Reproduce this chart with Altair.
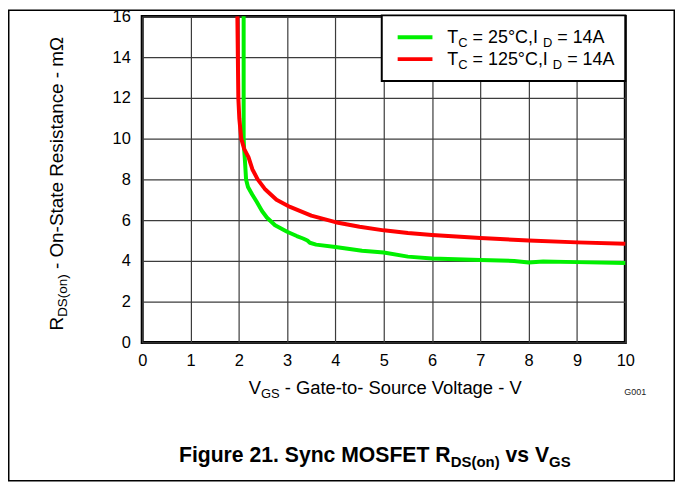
import altair as alt
import pandas as pd

# ---------------- data ----------------
vgs_25 = [2.10, 2.10, 2.11, 2.13, 2.15, 2.19, 2.28, 2.37, 2.48, 2.58, 2.75, 3.00, 3.20, 3.33,
          3.42, 3.47, 3.60, 4.00, 4.55, 5.00, 5.50, 6.00, 7.00, 7.70, 8.00, 8.30, 9.00, 10.00]
rds_25 = [16.0, 10.0, 9.5, 8.8, 8.0, 7.63, 7.25, 6.9, 6.45, 6.13, 5.75, 5.43, 5.22, 5.10,
          5.00, 4.89, 4.80, 4.68, 4.50, 4.41, 4.21, 4.12, 4.05, 4.00, 3.92, 3.97, 3.94, 3.90]

vgs_125 = [1.97, 1.99, 2.01, 2.05, 2.11, 2.20, 2.28, 2.39, 2.55, 2.78, 3.06, 3.50, 4.00,
           4.50, 5.00, 5.50, 6.00, 7.00, 8.00, 9.00, 10.00]
rds_125 = [16.0, 12.0, 11.0, 10.0, 9.5, 9.09, 8.5, 8.0, 7.5, 7.0, 6.65, 6.22, 5.90,
           5.68, 5.50, 5.37, 5.27, 5.12, 5.00, 4.91, 4.84]

x_ticks = list(range(0, 11))
y_ticks = list(range(0, 17, 2))
colors = ["#00F000", "#FF0000"]

FONT = "Liberation Sans"

# Arial / Liberation Sans advance widths (1/1000 em)
W_REG = {' ': 278, '-': 333, '(': 333, ')': 333, ',': 278, '.': 278, '=': 584, '°': 400,
         'A': 667, 'C': 722, 'D': 722, 'G': 778, 'I': 278, 'O': 778, 'R': 722, 'S': 667,
         'T': 611, 'V': 667, 'a': 556, 'c': 500, 'e': 556, 'g': 556, 'i': 222, 'l': 222,
         'm': 833, 'n': 556, 'o': 556, 'r': 333, 's': 500, 't': 278, 'u': 556, 'Ω': 768}
W_BOLD = {' ': 278, '.': 278, '(': 333, ')': 333, 'D': 722, 'E': 667, 'F': 611, 'G': 778,
          'M': 833, 'O': 778, 'R': 722, 'S': 667, 'T': 611, 'V': 667, 'c': 556, 'e': 556,
          'g': 611, 'i': 278, 'n': 611, 'o': 611, 'r': 389, 's': 556, 'u': 611, 'v': 556,
          'y': 556}


def text_width(s, fs, bold=False):
    table = W_BOLD if bold else W_REG
    return sum(table.get(c, 556) for c in s) * fs / 1000.0


def rich_text(segs, anchor_x, anchor_y, angle=0, bold=False, centered=True, color="black"):
    """segs: list of (text, fontsize, baseline_shift). Returns text layers."""
    total = sum(text_width(t, fs, bold) for t, fs, _ in segs)
    pos = -total / 2 if centered else 0.0
    layers = []
    one = pd.DataFrame({"k": [0]})
    for t, fs, sh in segs:
        lead = t[:len(t) - len(t.lstrip(" "))]
        start = pos + text_width(lead, fs, bold)
        shown = t.strip(" ")
        if angle == 0:
            px, py = anchor_x + start, anchor_y + sh
        else:  # 270: text runs upward, "down" is to the right
            px, py = anchor_x + sh, anchor_y - start
        layers.append(
            alt.Chart(one).mark_text(
                text=shown, align="left", baseline="alphabetic", fontSize=fs, font=FONT,
                angle=angle, fontWeight="bold" if bold else "normal", color=color
            ).encode(x=alt.value(px), y=alt.value(py))
        )
        pos += text_width(t, fs, bold)
    return layers


df25 = pd.DataFrame({"vgs": vgs_25, "rds": rds_25, "i": range(len(vgs_25))})
df125 = pd.DataFrame({"vgs": vgs_125, "rds": rds_125, "i": range(len(vgs_125))})

axis_common = dict(labelFont=FONT, labelFontSize=16.5, labelColor="black", ticks=False,
                   domain=False, grid=True, gridColor="#3c3c3c", gridWidth=1.2, title=None,
                   labelFlush=False, labelOverlap=False)

xenc = alt.X("vgs:Q", scale=alt.Scale(domain=[0, 10], nice=False),
             axis=alt.Axis(values=x_ticks, labelPadding=10, **axis_common))
yenc = alt.Y("rds:Q", scale=alt.Scale(domain=[0, 16], nice=False),
             axis=alt.Axis(values=y_ticks, labelPadding=12, **axis_common))

line25 = alt.Chart(df25).mark_line(color=colors[0], strokeWidth=4, strokeJoin="round").encode(
    x=xenc, y=yenc, order="i:Q")
line125 = alt.Chart(df125).mark_line(color=colors[1], strokeWidth=4, strokeJoin="round").encode(
    x=xenc, y=yenc, order="i:Q")

one = pd.DataFrame({"k": [0]})

# legend box
leg_box = alt.Chart(one).mark_rect(fill="white", stroke="black", strokeWidth=2).encode(
    x=alt.value(241), x2=alt.value(486), y=alt.value(-1), y2=alt.value(65))
leg_g = alt.Chart(one).mark_rule(color=colors[0], strokeWidth=4).encode(
    x=alt.value(257), x2=alt.value(292), y=alt.value(21))
leg_r = alt.Chart(one).mark_rule(color=colors[1], strokeWidth=4).encode(
    x=alt.value(257), x2=alt.value(292), y=alt.value(43))

texts = []
texts += rich_text([("T", 18, 0), ("C", 13, 4), (" = 25°C,I ", 18, 0), ("D", 13, 4),
                    (" = 14A", 18, 0)], 307, 27, centered=False)
texts += rich_text([("T", 18, 0), ("C", 13, 4), (" = 125°C,I ", 18, 0), ("D", 13, 4),
                    (" = 14A", 18, 0)], 307, 49, centered=False)
texts += rich_text([("V", 18.5, 0), ("GS", 13, 4), (" - Gate-to- Source Voltage - V", 18.5, 0)],
                   245, 380)
texts += rich_text([("R", 19, 0), ("DS(on)", 13.5, 4), (" - On-State Resistance - mΩ", 19, 0)],
                   -80, 168, angle=270)
texts += rich_text([("G001", 9, 0)], 485, 381, centered=False, color="#222222")
texts += rich_text([("Figure 21. Sync MOSFET R", 21.3, 0), ("DS(on)", 15, 5), (" vs V", 21.3, 0),
                    ("GS", 15, 5)], 234, 448, bold=True)

# outer page frame
frame = alt.Chart(one).mark_rect(fillOpacity=0, stroke="black", strokeWidth=1.5).encode(
    x=alt.value(-134.25), x2=alt.value(535.25), y=alt.value(-6.25), y2=alt.value(467.25))

chart = alt.layer(line25, line125, leg_box, leg_g, leg_r, frame, *texts).properties(
    width=486, height=328,
    padding={"left": 135, "top": 7, "right": 50, "bottom": 140},
    autosize=alt.AutoSizeParams(type="none"),
).configure_view(stroke="black", strokeWidth=3)

chart.save("out.html", embed_options={"renderer": "svg", "actions": False})
